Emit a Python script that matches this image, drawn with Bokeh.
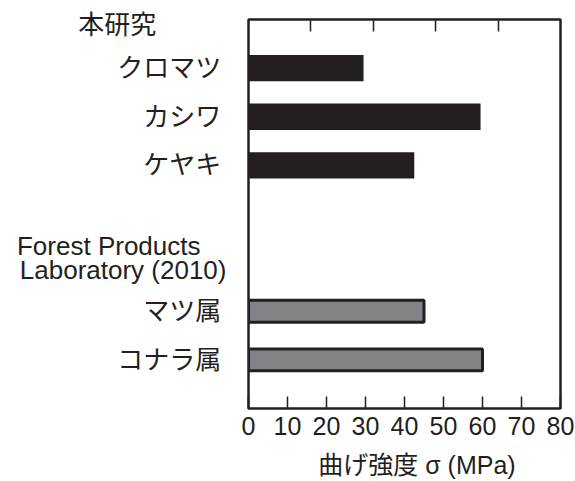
from bokeh.plotting import figure
from bokeh.models import Range1d, LinearAxis, FixedTicker
from bokeh.embed import file_html
from bokeh.resources import INLINE

# ---- data ----
study_header = "本研究"
study_species = ["クロマツ", "カシワ", "ケヤキ"]
study_values = [29.5, 59.5, 42.5]

fpl_header_1 = "Forest Products"
fpl_header_2 = "Laboratory (2010)"
fpl_species = ["マツ属", "コナラ属"]
fpl_values = [45.0, 60.0]

gap_rows = [" ", "  "]
x_ticks = [0, 10, 20, 30, 40, 50, 60, 70, 80]
top_ticks = [16, 32, 48, 64]
x_label = "曲げ強度 σ (MPa)"

# rows from top to bottom; row slots counted from the bottom
rows_top_down = study_species + gap_rows + fpl_species
rows_bottom_up = list(reversed(rows_top_down))
row_pos = {f: i + 0.5 for i, f in enumerate(rows_bottom_up)}

INK = "#231f20"
FONT = "Liberation Sans, Noto Sans CJK JP"
EN, THIN, IDEO = "\u2002", "\u2009", "\u3000"

p = figure(width=575, height=481, output_backend="svg", toolbar_location=None,
           x_range=Range1d(0, 80),
           y_range=Range1d(-0.5, len(rows_bottom_up) + 0.5),
           y_axis_location=None,
           min_border_left=248, min_border_right=15,
           min_border_top=19, min_border_bottom=73)

p.hbar(y=[row_pos[s] for s in study_species], right=study_values, left=0,
       height=0.54, fill_color=INK, line_color=None)
p.hbar(y=[row_pos[s] for s in fpl_species], right=fpl_values, left=0,
       height=0.45, fill_color="#808285", line_color=INK, line_width=3)

p.grid.visible = False
p.outline_line_color = INK
p.outline_line_width = 2.5

# bottom axis
xa = p.xaxis[0]
xa.ticker = FixedTicker(ticks=x_ticks)
xa.axis_line_color = None
xa.major_tick_in = 12
xa.major_tick_out = 0
xa.major_tick_line_color = INK
xa.major_tick_line_width = 1.5
xa.minor_tick_line_color = None
xa.major_label_text_font = "Liberation Sans"
xa.major_label_text_font_size = "25px"
xa.major_label_text_color = INK
xa.major_label_standoff = 8
xa.axis_label = EN + EN + x_label
xa.axis_label_text_font = FONT
xa.axis_label_text_font_size = "25px"
xa.axis_label_text_font_style = "normal"
xa.axis_label_text_color = INK
xa.axis_label_standoff = 13

# top axis: ticks only
ta = LinearAxis(ticker=FixedTicker(ticks=top_ticks))
ta.axis_line_color = None
ta.major_tick_in = 12
ta.major_tick_out = 0
ta.major_tick_line_color = INK
ta.major_tick_line_width = 1.5
ta.minor_tick_line_color = None
ta.major_label_text_color = None
ta.major_label_text_font_size = "1px"
ta.major_label_standoff = 0
p.add_layout(ta, "above")

# left axis: species names and section headers
label_map = {row_pos[s]: s + THIN for s in study_species + fpl_species}
label_map[7.377] = study_header + IDEO + IDEO + EN + THIN
label_map[2.848] = fpl_header_1 + EN + EN
label_map[2.350] = fpl_header_2

ya = LinearAxis(ticker=FixedTicker(ticks=sorted(label_map)))
ya.major_label_overrides = label_map
ya.axis_line_color = None
ya.major_tick_line_color = None
ya.minor_tick_line_color = None
ya.major_label_text_font = FONT
ya.major_label_text_font_size = "26px"
ya.major_label_text_color = INK
ya.major_label_standoff = 16
p.add_layout(ya, "left")

open("out.html", "w").write(file_html(p, INLINE))
